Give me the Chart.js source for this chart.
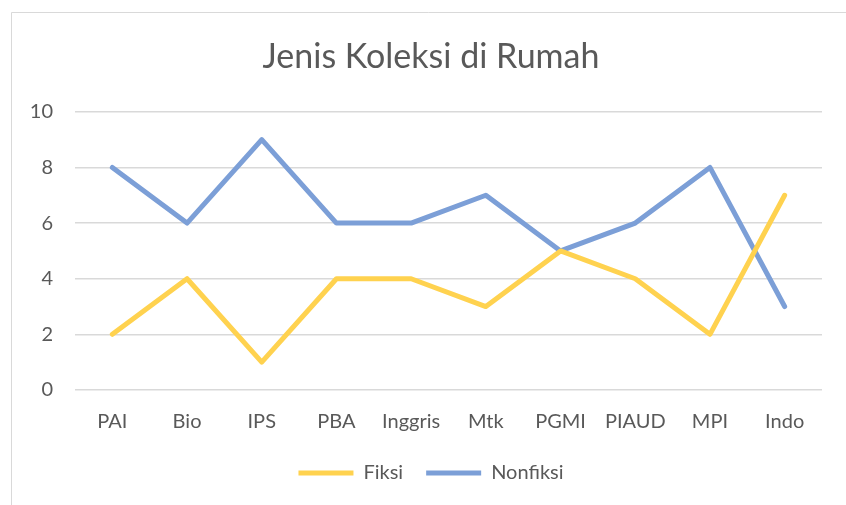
<!DOCTYPE html>
<html>
<head>
<meta charset="utf-8">
<script src="https://cdn.jsdelivr.net/npm/chart.js@4"></script>
<style>
  html, body { margin: 0; padding: 0; background: #fff; overflow: hidden; }
  #wrap { position: relative; width: 846px; height: 505px; }
</style>
</head>
<body>
<div id="wrap"><canvas id="chart" width="846" height="505"></canvas></div>
<script>
const categories = ['PAI', 'Bio', 'IPS', 'PBA', 'Inggris', 'Mtk', 'PGMI', 'PIAUD', 'MPI', 'Indo'];
const fiksi = [2, 4, 1, 4, 4, 3, 5, 4, 2, 7];
const nonfiksi = [8, 6, 9, 6, 6, 7, 5, 6, 8, 3];
const yTicks = [0, 2, 4, 6, 8, 10];

const textColor = '#595959';
const fontFamily = 'Lato, "Open Sans", sans-serif';

// thin grey frame like the Excel chart area
const frame = {
    id: 'frame',
    afterLayout(chart) {
        // title and legend are centred a bit right of the canvas centre
        chart.titleBlock.left = 40;
        chart.legend.left = 40;
    },
    beforeDraw(chart) {
        const ctx = chart.ctx;
        ctx.save();
        ctx.fillStyle = '#fff';
        ctx.fillRect(0, 0, chart.width, chart.height);
        ctx.strokeStyle = '#d9d9d9';
        ctx.lineWidth = 1;
        ctx.beginPath();
        ctx.moveTo(11.5, chart.height);
        ctx.lineTo(11.5, 12.5);
        ctx.lineTo(chart.width, 12.5);
        ctx.stroke();
        ctx.restore();
    }
};

function lineSet(label, data, color) {
    return {
        label,
        data,
        borderColor: color,
        backgroundColor: color,
        borderWidth: 5,
        borderCapStyle: 'round',
        borderJoinStyle: 'round',
        pointRadius: 0,
        pointHoverRadius: 0,
        tension: 0,
        fill: false
    };
}

new Chart(document.getElementById('chart').getContext('2d'), {
    type: 'line',
    data: {
        labels: categories,
        datasets: [
            lineSet('Fiksi', fiksi, '#ffd24f'),
            lineSet('Nonfiksi', nonfiksi, '#7c9fd7')
        ]
    },
    options: {
        responsive: false,
        animation: false,
        layout: { padding: { left: 8, right: 24, top: 26, bottom: 12 } },
        plugins: {
            title: {
                display: true,
                text: 'Jenis Koleksi di Rumah',
                color: textColor,
                font: { family: fontFamily, size: 34, weight: 'normal' },
                padding: { top: 11, bottom: 34 }
            },
            legend: {
                position: 'bottom',
                labels: {
                    color: textColor,
                    font: { family: fontFamily, size: 20 },
                    usePointStyle: true,
                    pointStyle: 'line',
                    pointStyleWidth: 55,
                    boxHeight: 20,
                    padding: 23
                }
            },
            tooltip: { enabled: false }
        },
        scales: {
            x: {
                offset: true,
                grid: { display: false, drawTicks: false },
                border: { display: false },
                ticks: {
                    color: textColor,
                    font: { family: fontFamily, size: 20 },
                    padding: 20,
                    maxRotation: 0
                },
                afterFit(scale) {
                    scale.height = 50;
                }
            },
            y: {
                min: 0,
                max: 10,
                afterBuildTicks(axis) {
                    axis.ticks = yTicks.map(v => ({ value: v }));
                },
                afterFit(scale) {
                    scale.width = 67;
                },
                grid: { color: '#d9d9d9', lineWidth: 1.5, drawTicks: false },
                border: { display: false },
                ticks: {
                    color: textColor,
                    font: { family: fontFamily, size: 20 },
                    padding: 22
                }
            }
        }
    },
    plugins: [frame]
});
</script>
</body>
</html>
